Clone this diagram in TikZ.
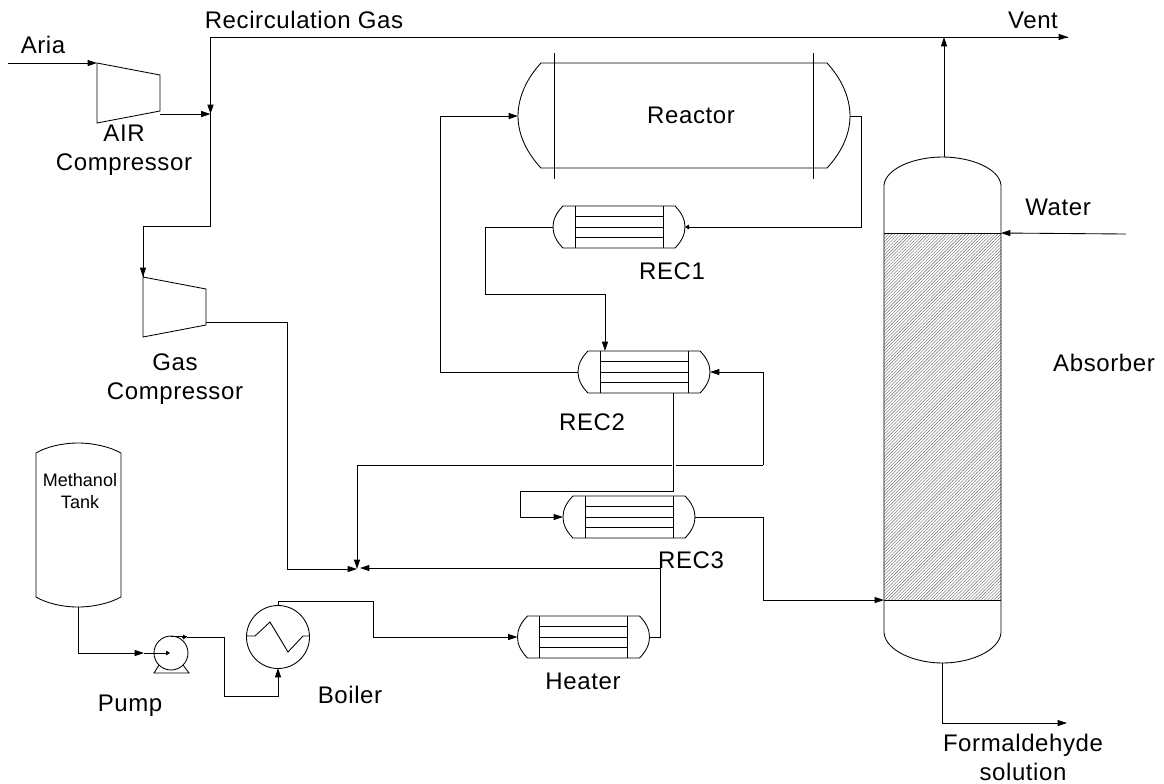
\documentclass[tikz,border=0pt]{standalone}
\usepackage{fontspec}
\setmainfont[LetterSpace=2.5]{Liberation Sans}
\newfontfamily\smallfam{Liberation Sans}
\usetikzlibrary{arrows.meta,patterns.meta}
\tikzset{
  eq/.style={draw=black,line width=0.65pt,fill=none},
  pipe/.style={draw=black,line width=0.65pt},
  flow/.style={pipe,-{Triangle[length=7pt,width=4.5pt]}},
  tiny flow/.style={pipe,-{Triangle[length=3pt,width=3.5pt]}},
  lbl/.style={font=\fontsize{18pt}{21.75pt}\selectfont,text=black,inner sep=0pt,align=center},
  pt/.style={inner sep=0pt,minimum size=0pt,outer sep=0pt},
}
% heat exchanger: left apex at (#1,#2), y = midline
\newcommand{\hx}[2]{%
  \draw[eq] (#1+10,#2-21) .. controls (#1+3,#2-14) and (#1,#2-7) .. (#1,#2)
     .. controls (#1,#2+7) and (#1+3,#2+14) .. (#1+10,#2+21)
     -- (#1+122,#2+21) .. controls (#1+129,#2+14) and (#1+132,#2+7) .. (#1+132,#2)
     .. controls (#1+132,#2-7) and (#1+129,#2-14) .. (#1+122,#2-21) -- cycle;
  \draw[eq] (#1+22,#2-21) -- (#1+22,#2+21) (#1+110,#2-21) -- (#1+110,#2+21);
  \draw[eq] (#1+22,#2-10.5) -- (#1+110,#2-10.5) (#1+22,#2) -- (#1+110,#2) (#1+22,#2+10.5) -- (#1+110,#2+10.5);
}
\begin{document}
\begin{tikzpicture}[x=0.75pt,y=-0.75pt]
\useasboundingbox (0,0) rectangle (1164,783);

% ---- anchor nodes
\node[pt] (ariaIn)   at (8,63) {};
\node[pt] (airIn)    at (97,63) {};
\node[pt] (airOut)   at (160,114) {};
\node[pt] (mix1)     at (210.5,114) {};
\node[pt] (gasIn)    at (143,277) {};
\node[pt] (gasOut)   at (206,322) {};
\node[pt] (mix2)     at (357,569) {};
\node[pt] (ventEnd)  at (1068,37) {};
\node[pt] (ventTee)  at (944,37) {};
\node[pt] (absTop)   at (944,157) {};
\node[pt] (absBot)   at (942.5,663) {};
\node[pt] (formEnd)  at (1067,723) {};
\node[pt] (waterIn)  at (1126,234) {};
\node[pt] (absWater) at (1001,233) {};
\node[pt] (absFeed)  at (884,600) {};
\node[pt] (reacL)    at (518,116) {};
\node[pt] (reacR)    at (850,116) {};
\node[pt] (r1L)      at (553,227) {};
\node[pt] (r1R)      at (685,227) {};
\node[pt] (r2L)      at (578,372) {};
\node[pt] (r2R)      at (710,372) {};
\node[pt] (r2T)      at (605,351) {};
\node[pt] (r2B)      at (673,393) {};
\node[pt] (r3L)      at (563,517) {};
\node[pt] (r3R)      at (695,517) {};
\node[pt] (hL)       at (517.5,637) {};
\node[pt] (hR)       at (649.5,637) {};
\node[pt] (tankOut)  at (78,607) {};
\node[pt] (pumpIn)   at (170,653) {};
\node[pt] (pumpOut)  at (187,637) {};
\node[pt] (blrIn)    at (278,668) {};
\node[pt] (blrOut)   at (278,606) {};

% ---- equipment
\draw[eq] (97,63) -- (160,75) -- (160,111) -- (97,123) -- cycle;
\draw[eq] (143,277) -- (206,289) -- (206,325) -- (143,337) -- cycle;

% reactor
\draw[eq] (541,63) .. controls (527,78) and (518,97) .. (518,116)
  .. controls (518,135) and (527,153) .. (541,168) -- (827,168)
  .. controls (841,153) and (850,135) .. (850,116)
  .. controls (850,97) and (841,78) .. (827,63) -- cycle;
\draw[eq] (554,53) -- (554,179) (813,53) -- (813,179);

\hx{553}{227}
\hx{578}{372}
\hx{563}{517}
\hx{517.5}{637}

% absorber
\fill[pattern={Lines[angle=45,distance=1.7pt,line width=0.3pt]},pattern color=black!60] (884,233) rectangle (1001,600);
\draw[eq] (884,633) -- (884,185) .. controls (886,168) and (915,157) .. (942.5,157)
   .. controls (970,157) and (999,168) .. (1001,185) -- (1001,633)
   .. controls (999,651) and (970,663) .. (942.5,663)
   .. controls (915,663) and (886,651) .. (884,633) -- cycle;
\draw[eq] (884,233) -- (1001,233) (884,600) -- (1001,600);

% tank
\draw[eq] (36,597) -- (36,453) .. controls (46,447) and (62,443) .. (78,443)
   .. controls (94,443) and (110,447) .. (121,453) -- (121,597)
   .. controls (110,603) and (94,607) .. (78,607)
   .. controls (62,607) and (46,603) .. (36,597) -- cycle;

% pump
\draw[eq] (171,653) circle[radius=17];
\draw[eq] (159,665) -- (154,673) -- (189,673) -- (183,665);
\draw[pipe] (171,636.5) -- (187,636.5);

% boiler
\draw[eq] (278,637) circle[radius=31.5];
\draw[eq] (247,636) -- (255,636) -- (270,622) -- (288,652) -- (303,636) -- (309,636);

% ---- connectors
\draw[flow] (ariaIn) -- (airIn);
\draw[flow] (airOut) -- (mix1);
\draw[pipe] (ventEnd) -- (210.5,37) -- (210.5,226) -- (143,226) -- (gasIn);
\draw[flow] (210.5,37) -- (mix1);
\draw[flow] (143,226) -- (gasIn);
\draw[flow] (ventTee) -- (ventEnd);
\draw[flow] (absTop) -- (ventTee);
\draw[flow] (gasOut) -- (287,322) -- (287,569) -- (mix2);
\draw[pipe,-{Triangle[length=3pt,width=3.5pt]}] (reacR) -- (861,116) -- (861,227) -- (r1R);
\draw[flow] (r1L) -- (485,227) -- (485,294) -- (605,294) -- (r2T);
\draw[flow] (r2L) -- (440,372) -- (440,116) -- (reacL);
\draw[pipe] (r2B) -- (673,491) -- (520.5,491) -- (520.5,517) -- (530,517);
\draw[flow] (530,517) -- (r3L);
\draw[flow] (r3R) -- (763,517) -- (763,600) -- (absFeed);
\draw[flow] (763,465) -- (763,372) -- (r2R);
\draw[pipe] (763,465) -- (676,465);
\draw[flow] (671.5,465) -- (357,465) -- (mix2);
\draw[flow] (hR) -- (660.5,637) -- (660.5,568) -- (360,568);
\draw[flow] (tankOut) -- (78,653) -- (144,653);
\draw[tiny flow] (144,653) -- (pumpIn);
\draw[tiny flow] (182,637) -- (pumpOut);
\draw[flow] (187,637) -- (224,637) -- (224,696) -- (278,696) -- (blrIn);
\draw[flow] (blrOut) -- (278,601) -- (373,601) -- (373,637) -- (hL);
\draw[flow] (waterIn) -- (absWater);
\draw[flow] (absBot) -- (942.5,723) -- (formEnd);

% ---- labels
\node[lbl] (tAria) at (43,45) {Aria};
\node[lbl] (tRecirc) at (304,20) {Recirculation Gas};
\node[lbl] (tVent) at (1033,20) {Vent};
\node[lbl] (tAir) at (124,150) {AIR\\Compressor};
\node[lbl] (tReactor) at (691,115) {Reactor};
\node[lbl] (tRec1) at (672,271) {REC1};
\node[lbl] (tRec2) at (592,422) {REC2};
\node[lbl] (tRec3) at (691,560) {REC3};
\node[lbl] (tGas) at (175,379.5) {Gas\\Compressor};
\node[lbl] (tWater) at (1058,207) {Water};
\node[lbl] (tAbs) at (1104,363) {Absorber};
\node[lbl,font=\smallfam\fontsize{13.5pt}{16.5pt}\selectfont] (tMeth) at (80,491) {Methanol\\Tank};
\node[lbl] (tPump) at (130,706) {Pump};
\node[lbl] (tBoiler) at (350,695) {Boiler};
\node[lbl] (tHeater) at (583,681) {Heater};
\node[lbl] (tForm) at (1023,757) {Formaldehyde\\solution};
\end{tikzpicture}
\end{document}
